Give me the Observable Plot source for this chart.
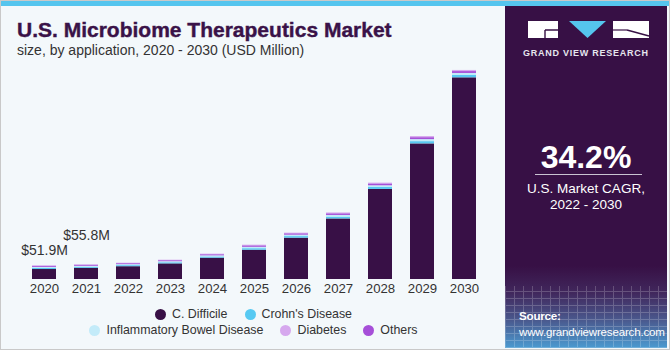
<!DOCTYPE html>
<html>
<head>
<meta charset="utf-8">
<script src="https://cdn.jsdelivr.net/npm/d3@7"></script>
<script src="https://cdn.jsdelivr.net/npm/@observablehq/plot@0.6"></script>
<style>
  html, body { margin: 0; padding: 0; background: #ffffff; }
  #frame { position: relative; width: 670px; height: 350px; overflow: hidden; background: #f3f8fb; font-family: "Liberation Sans", Arial, sans-serif; box-sizing: border-box; border: 1px solid #c9c9c9; }
  #topbar { position: absolute; left: 0; top: 0; width: 670px; height: 5px; background: #55c5ee; }
  #title { position: absolute; left: 16px; top: 17px; font-size: 21px; font-weight: bold; color: #3a1248; -webkit-text-stroke: 0.4px #3a1248; white-space: nowrap; }
  #subtitle { position: absolute; left: 16px; top: 41px; font-size: 14px; color: #333; white-space: nowrap; }
  #chart { position: absolute; left: 0; top: 60px; }
  #legend { position: absolute; left: 0; top: 305px; width: 505px; font-size: 12.4px; color: #333; }
  .lrow { display: flex; justify-content: center; gap: 17px; height: 16px; line-height: 16px; }
  .litem { display: flex; align-items: center; white-space: nowrap; }
  .ldot { width: 11px; height: 11px; border-radius: 50%; margin-right: 6px; display: inline-block; }
  #side { position: absolute; left: 504px; top: 5px; width: 162px; height: 342px;
    background: linear-gradient(to bottom, #371045 0%, #371045 76%, #41285d 84%, #4a5a8f 92%, #4b9ad0 100%); color: #fff; }
  #side .grid { position: absolute; left: 0; top: 280px; width: 162px; height: 62px; opacity: 0.2;
    background-image: repeating-linear-gradient(90deg, #fff 0 1px, transparent 1px 9px), repeating-linear-gradient(0deg, #fff 0 1px, transparent 1px 7px); }
  #gvr { position: absolute; left: 0; top: 42px; width: 162px; text-align: center; font-size: 9px; font-weight: bold; letter-spacing: 0.75px; color: #e6e6ee; }
  #cagr { position: absolute; left: 0; top: 133px; width: 162px; text-align: center; font-size: 32px; font-weight: bold; color: #fff; }
  #cagrline { position: absolute; left: 30px; top: 168px; width: 107px; height: 1px; background: #c9c3d2; }
  #cagrtxt { position: absolute; left: 0; top: 175px; width: 162px; text-align: center; font-size: 13.5px; line-height: 16px; color: #fff; }
  #source { position: absolute; left: 14px; top: 302px; font-size: 11.6px; letter-spacing: -0.2px; line-height: 16px; color: #fff; }
</style>
</head>
<body>
<div id="frame">
  <div id="topbar"></div>
  <div id="title">U.S. Microbiome Therapeutics Market</div>
  <div id="subtitle">size, by application, 2020 - 2030 (USD Million)</div>
  <div id="chart"></div>
  <div id="legend"></div>
  <div id="side">
    <div class="grid"></div>
    <svg width="162" height="40" style="position:absolute;left:0;top:0">
      <rect x="23" y="15" width="30" height="17" fill="#ffffff"/>
      <path d="M40 24 H53 M40 24 V32" stroke="#371045" stroke-width="1.4" fill="none"/>
      <polygon points="64,15 101,15 82.5,32" fill="#55c5ee"/>
      <rect x="108" y="15" width="36" height="17" fill="#ffffff"/>
      <path d="M122 24 L144 30" stroke="#371045" stroke-width="1.4" fill="none"/>
      <path d="M108 24 H122" stroke="#371045" stroke-width="1.2" fill="none"/>
    </svg>
    <div id="gvr">GRAND VIEW RESEARCH</div>
    <div id="cagr">34.2%</div>
    <div id="cagrline"></div>
    <div id="cagrtxt">U.S. Market CAGR,<br>2022 - 2030</div>
    <div id="source"><b>Source:</b><br>www.grandviewresearch.com</div>
  </div>
</div>
<script>
// ---- data (USD Million) ----
const years = ["2020","2021","2022","2023","2024","2025","2026","2027","2028","2029","2030"];
const cDifficile = [37.9, 42.4, 48.6, 59.3, 81.0, 111.3, 157.0, 230.0, 342.0, 515.0, 766.0];
const crohns     = [4.3, 4.1, 4.1, 4.3, 4.6, 5.8, 6.0, 7.0, 7.4, 8.6, 8.8];
const ibd        = [3.9, 3.7, 3.7, 3.9, 4.2, 5.2, 5.3, 6.3, 6.6, 7.7, 7.8];
const diabetes   = [2.3, 2.2, 2.2, 2.3, 2.6, 3.2, 3.0, 3.8, 4.0, 4.7, 4.4];
const others     = [3.5, 3.4, 3.3, 3.5, 3.8, 4.8, 4.7, 5.7, 6.0, 7.0, 7.0];
const seriesNames  = ["C. Difficile", "Crohn's Disease", "Inflammatory Bowel Disease", "Diabetes", "Others"];
const seriesColors = ["#381046", "#57c9f2", "#c3ebf9", "#d6a8ee", "#a64fd8"];
const stackOrder   = ["C. Difficile", "Crohn's Disease", "Inflammatory Bowel Disease", "Others", "Diabetes"];
const labelYears = ["2020", "2021"];
const labelTexts = ["$51.9M", "$55.8M"];

const seriesValues = [cDifficile, crohns, ibd, diabetes, others];
const rows = [];
years.forEach((y, i) => seriesNames.forEach((s, j) => rows.push({year: y, series: s, value: seriesValues[j][i]})));
const totals = years.map((y, i) => seriesValues.reduce((a, arr) => a + arr[i], 0));
const labelRows = labelYears.map((y, k) => ({year: y, total: totals[years.indexOf(y)], text: labelTexts[k]}));

const chart = Plot.plot({
  width: 494,
  height: 240,
  marginLeft: 12,
  marginRight: 0,
  marginTop: 10,
  marginBottom: 22,
  style: {background: "transparent", fontFamily: "Liberation Sans, Arial, sans-serif", fontSize: "13.2px", color: "#333"},
  x: {domain: years, padding: 0.43, label: null, tickSize: 0, tickPadding: 4},
  y: {domain: [0, 790], axis: null},
  color: {domain: seriesNames, range: seriesColors},
  marks: [
    Plot.barY(rows, Plot.stackY({x: "year", y: "value", z: "series", fill: "series", order: stackOrder})),
    Plot.text(labelRows.slice(0, 1), {x: "year", y: "total", text: "text", dy: -15, fontSize: 14, fill: "#333"}),
    Plot.text(labelRows.slice(1, 2), {x: "year", y: "total", text: "text", dy: -29, fontSize: 14, fill: "#333"})
  ]
});
document.getElementById("chart").appendChild(chart);

// legend
const legendRows = [[0, 1], [2, 3, 4]];
const legend = document.getElementById("legend");
legendRows.forEach((idxs) => {
  const row = document.createElement("div");
  row.className = "lrow";
  idxs.forEach(i => {
    const item = document.createElement("span");
    item.className = "litem";
    const dot = document.createElement("span");
    dot.className = "ldot";
    dot.style.background = seriesColors[i];
    item.appendChild(dot);
    item.appendChild(document.createTextNode(seriesNames[i]));
    row.appendChild(item);
  });
  legend.appendChild(row);
});
</script>
</body>
</html>
